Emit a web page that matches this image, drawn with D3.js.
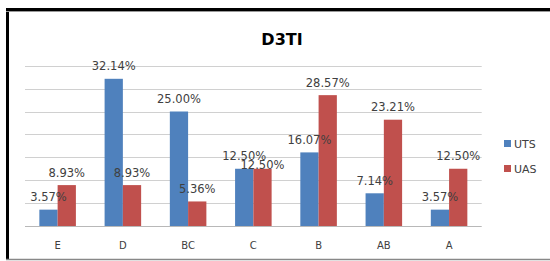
<!DOCTYPE html>
<html>
<head>
<meta charset="utf-8">
<title>D3TI</title>
<script src="https://cdn.jsdelivr.net/npm/d3@7"></script>
<style>
  body { margin: 0; background: #fff; }
  text { font-family: "DejaVu Sans", sans-serif; }
</style>
</head>
<body>
<script>
// grades and the two series (percent)
var grades = ["E", "D", "BC", "C", "B", "AB", "A"];
var seriesNames = ["UTS", "UAS"];
var uts = [3.57, 32.14, 25.00, 12.50, 16.07, 7.14, 3.57];
var uas = [8.93, 8.93, 5.36, 12.50, 28.57, 23.21, 12.50];
var yTicks = [0, 5, 10, 15, 20, 25, 30, 35];
var colours = ["#4f81bd", "#c0504d"];

var W = 550, H = 261;
var svg = d3.select("body").append("svg")
    .attr("width", W)
    .attr("height", H);

svg.append("rect").attr("width", W).attr("height", H).attr("fill", "#fff");

// chart frame (left and top black, bottom grey, right runs off the picture)
svg.append("line").attr("x1", 7.5).attr("x2", 7.5).attr("y1", 8).attr("y2", 260)
    .attr("stroke", "#000").attr("stroke-width", 3);
svg.append("line").attr("x1", 6).attr("x2", W).attr("y1", 9.5).attr("y2", 9.5)
    .attr("stroke", "#000").attr("stroke-width", 3);
svg.append("line").attr("x1", 6).attr("x2", W).attr("y1", 11.5).attr("y2", 11.5)
    .attr("stroke", "#999").attr("stroke-width", 1);
svg.append("line").attr("x1", 6).attr("x2", W).attr("y1", 259.5).attr("y2", 259.5)
    .attr("stroke", "#888").attr("stroke-width", 1.5);

// title
svg.append("text")
    .attr("x", 282).attr("y", 44.5)
    .attr("text-anchor", "middle")
    .attr("font-size", 16).attr("font-weight", "bold")
    .attr("fill", "#000")
    .text("D3TI");

var x = d3.scaleBand().domain(grades).range([25, 481.7]);
var y = d3.scaleLinear().domain([0, 35]).range([226, 65.7]);
var bw = x.bandwidth() * 0.28;

// gridlines
svg.append("g").selectAll("line")
    .data(yTicks)
    .enter().append("line")
    .attr("x1", 25).attr("x2", 481.7)
    .attr("y1", function (d) { return Math.round(y(d)) + 0.5; })
    .attr("y2", function (d) { return Math.round(y(d)) + 0.5; })
    .attr("stroke", function (d) { return d === 0 ? "#b8b8b8" : "#d0d0d0"; })
    .attr("stroke-width", 1.2);

// category labels
svg.append("g").selectAll("text")
    .data(grades)
    .enter().append("text")
    .attr("x", function (d) { return x(d) + x.bandwidth() / 2; })
    .attr("y", 248.5)
    .attr("text-anchor", "middle")
    .attr("font-size", 10)
    .attr("fill", "#404040")
    .text(function (d) { return d; });

var fmt = d3.format(".2f");
var allBars = [];
[uts, uas].forEach(function (vals, s) {
  vals.forEach(function (v, i) { allBars.push({ g: grades[i], v: v, s: s }); });
});

function barCentre(d) { return x(d.g) + x.bandwidth() / 2 - bw / 2 + d.s * bw; }

// bars first, then every label on top
svg.append("g").selectAll("rect")
    .data(allBars)
    .enter().append("rect")
    .attr("x", function (d) { return barCentre(d) - bw / 2; })
    .attr("y", function (d) { return y(d.v); })
    .attr("width", bw)
    .attr("height", function (d) { return y(0) - y(d.v); })
    .attr("fill", function (d) { return colours[d.s]; });

svg.append("g").selectAll("text")
    .data(allBars)
    .enter().append("text")
    .attr("x", barCentre)
    .attr("y", function (d) {
      // the UAS label on C was pushed down in the original so it doesn't sit on the UTS one
      var lift = (d.s === 1 && d.g === "C") ? 0 : 8.5;
      return y(d.v) - lift;
    })
    .attr("text-anchor", "middle")
    .attr("font-size", 11.5)
    .attr("fill", "#404040")
    .text(function (d) { return fmt(d.v) + "%"; });

// legend
var legend = svg.append("g").selectAll("g")
    .data(seriesNames)
    .enter().append("g")
    .attr("transform", function (d, i) { return "translate(504," + (140 + i * 25) + ")"; });
legend.append("rect")
    .attr("width", 7).attr("height", 7)
    .attr("fill", function (d, i) { return colours[i]; });
legend.append("text")
    .attr("x", 10).attr("y", 7.5)
    .attr("font-size", 11)
    .attr("fill", "#404040")
    .text(function (d) { return d; });
</script>
</body>
</html>
